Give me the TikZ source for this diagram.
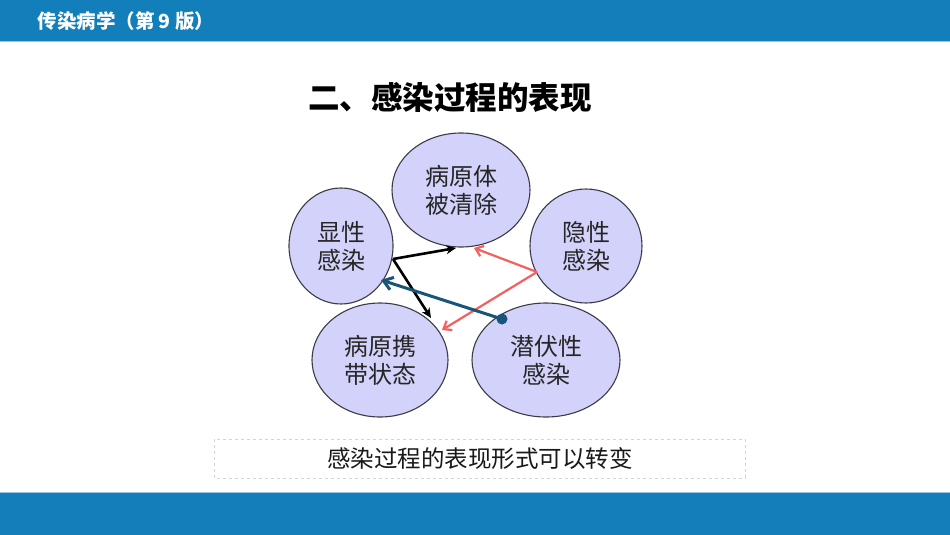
\documentclass[tikz,border=0pt]{standalone}
\usepackage{fontspec}
\setmainfont{Noto Sans CJK SC}
\usetikzlibrary{arrows.meta,shapes.geometric}
\definecolor{barblue}{RGB}{18,127,186}
\definecolor{barline}{RGB}{150,200,230}
\definecolor{lav}{RGB}{210,210,250}
\definecolor{edge}{RGB}{60,60,70}
\definecolor{redarr}{RGB}{245,95,95}
\definecolor{bluearr}{RGB}{25,85,120}
\definecolor{boxline}{RGB}{200,215,225}
\tikzset{
  state/.style={ellipse, draw=edge, line width=1.1pt, fill=lav, inner sep=0pt,
    font=\fontsize{24}{28}\selectfont, text=black!85, align=center},
  blk/.style={line width=2.6pt, black, -{Stealth[length=10pt,width=9pt]}},
  redl/.style={line width=2.2pt, redarr, -{Straight Barb[length=7pt,width=11pt]}},
  bluel/.style={line width=3pt, bluearr, -{Straight Barb[length=9pt,width=13pt]}},
}
\begin{document}
\begin{tikzpicture}[x=1pt,y=-1pt]
\useasboundingbox (0,0) rectangle (950,535);
\fill[white] (0,0) rectangle (950,535);
% bars
\fill[barblue] (0,0) rectangle (950,41);
\draw[barline, line width=1pt] (0,41.5) -- (950,41.5);
\fill[barblue] (0,493) rectangle (950,535);
\draw[barline, line width=1pt] (0,492.5) -- (950,492.5);
\node[anchor=west, text=white, font=\bfseries\fontsize{19.5}{22}\selectfont] (hdr) at (34,21) {传染病学（第 9 版）};
\node[font=\bfseries\fontsize{31.5}{34}\selectfont] (title) at (450,97) {二、感染过程的表现};
% ellipses
\node[state, minimum width=138pt, minimum height=114pt] (clear) at (461,190) {病原体\\被清除};
\node[state, minimum width=104pt, minimum height=116pt] (xian) at (341,246) {显性\\感染};
\node[state, minimum width=112pt, minimum height=114pt] (yin) at (586,246) {隐性\\感染};
\node[state, minimum width=136pt, minimum height=114pt] (carry) at (380,360) {病原携\\带状态};
\node[state, minimum width=148pt, minimum height=114pt] (qian) at (546,360) {潜伏性\\感染};
% connector points
\coordinate (xs) at (393,259);
\coordinate (ct) at (456,248);
\coordinate (cb) at (431,318);
\coordinate (ys) at (537,272);
\coordinate (ct2) at (474,248);
\coordinate (cr) at (442,330);
\coordinate (qs) at (502,319);
\coordinate (xe) at (381,280);
% arrows
\draw[blk] (xs) -- (ct);
\draw[blk] (xs) -- (cb);
\draw[redl] (ys) -- (ct2);
\draw[redl] (ys) -- (cr);
\draw[bluel] (qs) -- (xe);
\fill[bluearr] (qs) circle (5.5pt);
% bottom box
\draw[boxline, dashed, line width=0.6pt] (214,439) rectangle (745,478);
\node[font=\fontsize{23.5}{26}\selectfont, text=black!90] (cap) at (480,459) {感染过程的表现形式可以转变};
\end{tikzpicture}
\end{document}
